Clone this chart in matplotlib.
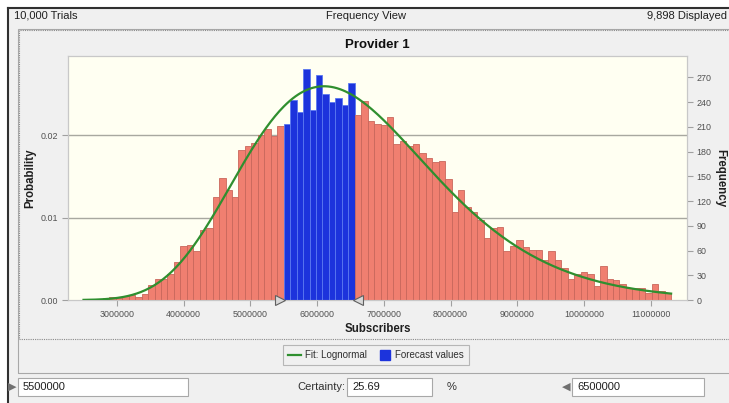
import numpy as np
import matplotlib
matplotlib.use("Agg")
import matplotlib.pyplot as plt
from matplotlib.patches import Rectangle
from matplotlib.lines import Line2D
from matplotlib.transforms import offset_copy

plt.rcParams['font.family'] = ['Liberation Sans', 'DejaVu Sans']

# --- data ---
trials = 10000
displayed = 9898
title = "Provider 1"
bin_width = 96700
first_edge = 2502300
lower_value = 5500000
upper_value = 6500000
certainty = 25.69

counts = [
    1, 1, 1, 2, 4, 3, 5, 6, 4, 7,
    18, 26, 26, 32, 46, 66, 67, 60, 85, 87,
    125, 148, 133, 125, 182, 187, 190, 200, 207, 199, 211,
    213, 243, 228, 280, 230, 273, 250, 240, 245, 237, 263,
    224, 241, 217, 214, 212, 222, 189, 193, 187, 189, 178, 172, 167, 169,
    147, 107, 134, 113, 107, 97, 75, 87, 89, 60,
    65, 73, 64, 61, 61, 49, 60, 48, 39, 25,
    32, 34, 31, 17, 41, 26, 24, 20, 14, 15,
    14, 8, 19, 11, 9,
]
xticks = [3000000, 4000000, 5000000, 6000000, 7000000, 8000000, 9000000, 10000000, 11000000]
freq_ticks = [0, 30, 60, 90, 120, 150, 180, 210, 240, 270]
prob_ticks = [0.00, 0.01, 0.02]

counts = np.array(counts)
edges = first_edge + np.arange(len(counts) + 1) * bin_width
lefts = edges[:-1]
centers = lefts + bin_width / 2
forecast = (lefts >= lower_value) & (lefts < upper_value)

# lognormal fit from the binned counts
logc = np.log(centers)
mu = np.sum(counts * logc) / counts.sum()
sig = np.sqrt(np.sum(counts * (logc - mu) ** 2) / counts.sum())
xs = np.linspace(edges[0], edges[-1], 400)
fit = np.exp(-(np.log(xs) - mu) ** 2 / (2 * sig ** 2)) / (xs * sig * np.sqrt(2 * np.pi))
fit = fit * counts.sum() * bin_width

W, H = 729, 403
def fx(x):
    return x / W
def fy(y):
    return 1 - y / H

fig = plt.figure(figsize=(7.29, 4.03), dpi=100, facecolor='white')

# window chrome (kept behind the axes)
fig.add_artist(Rectangle((fx(8), 0), 1 - fx(8), fy(8), transform=fig.transFigure,
                         facecolor='#f0f0f0', edgecolor='none', zorder=-10))
fig.add_artist(Line2D([fx(8), 1], [fy(8), fy(8)], transform=fig.transFigure, color='#303030', lw=1.5, zorder=-5))
fig.add_artist(Line2D([fx(8), fx(8)], [fy(8), 0], transform=fig.transFigure, color='#303030', lw=1.5, zorder=-5))
fig.add_artist(Rectangle((fx(18), fy(373)), 1, fy(29) - fy(373), transform=fig.transFigure,
                         facecolor='none', edgecolor='#a8a8a8', lw=0.8, zorder=-5))
fig.add_artist(Rectangle((fx(19), fy(339)), 1, fy(30) - fy(339), transform=fig.transFigure,
                         facecolor='none', edgecolor='#8a8a8a', lw=0.8, ls=(0, (1, 1)), zorder=-5))

fig.text(fx(14), fy(16), f"{trials:,} Trials", fontsize=8, color='#202020', va='center')
fig.text(fx(366), fy(16), "Frequency View", fontsize=8, color='#202020', va='center', ha='center')
fig.text(fx(727), fy(16), f"{displayed:,} Displayed", fontsize=8, color='#202020', va='center', ha='right')

ax = fig.add_axes([fx(68), fy(300), fx(687) - fx(68), fy(56) - fy(300)])
ax.set_facecolor('#fffff2')
ax2 = ax.twinx()

top = 296
ax2.set_ylim(0, top)
ax.set_ylim(0, top / trials)
ax.set_xlim(2270000, 11540000)

ax.set_yticks(prob_ticks)
ax.set_yticklabels([f"{t:.2f}" for t in prob_ticks])
for t in prob_ticks[1:]:
    ax.axhline(t, color='#a8a8a0', lw=1, zorder=0)

colors = np.where(forecast, '#1c33dc', '#f07f70')
ecolors = np.where(forecast, '#5a78f0', '#c9675c')
ax2.bar(lefts, counts, width=bin_width, align='edge', color=colors,
        edgecolor=ecolors, linewidth=0.6, zorder=2)
ax2.plot(xs, fit, color='#2f8f2f', lw=1.6, zorder=3)

# range markers at the forecast bars
blue_lo = lefts[forecast].min()
blue_hi = lefts[forecast].max() + bin_width
ax2.plot([blue_lo], [0], marker='>', ms=7.5, mfc='#d8d8d8', mec='#606060', mew=0.8,
         clip_on=False, zorder=5, transform=offset_copy(ax2.transData, fig, x=-2.5, units='points'))
ax2.plot([blue_hi], [0], marker='<', ms=7.5, mfc='#d8d8d8', mec='#606060', mew=0.8,
         clip_on=False, zorder=5, transform=offset_copy(ax2.transData, fig, x=2.5, units='points'))

ax.set_xticks(xticks)
ax.set_xticklabels([str(t) for t in xticks])
ax2.set_yticks(freq_ticks)

for a in (ax, ax2):
    a.tick_params(colors='#a0a0a0', labelcolor='#505050', labelsize=6.4, length=4, width=0.8, pad=3)
    for s in a.spines.values():
        s.set_color('#c8c8c8')
        s.set_linewidth(0.8)

ax.set_title(title, fontsize=9.5, fontweight='bold', color='#101010', pad=5.5)
ax.set_xlabel("Subscribers", fontsize=8.3, fontweight='bold', color='#202020', labelpad=3)
fig.text(fx(30), fy(178), "Probability", rotation=90, fontsize=8.3, fontweight='bold',
         color='#202020', ha='center', va='center')
fig.text(fx(720), fy(178), "Frequency", rotation=-90, fontsize=8.3, fontweight='bold',
         color='#202020', ha='center', va='center')

handles = [Line2D([], [], color='#2f8f2f', lw=1.6),
           Line2D([], [], color='#1c33dc', marker='s', ms=7, ls='none')]
leg = fig.legend(handles, ["Fit: Lognormal", "Forecast values"], loc='center',
                 bbox_to_anchor=(fx(376), fy(355)), ncol=2, fontsize=7, frameon=True,
                 fancybox=False, edgecolor='#a8a8a8', facecolor='#f0f0f0',
                 handlelength=1.3, handletextpad=0.4, columnspacing=1.2, borderpad=0.5)
leg.get_frame().set_linewidth(0.8)
for t in leg.get_texts():
    t.set_color('#303030')

# bottom input row
def box(x0, x1, text):
    fig.add_artist(Rectangle((fx(x0), fy(396)), fx(x1) - fx(x0), fy(378) - fy(396),
                             transform=fig.transFigure, facecolor='white',
                             edgecolor='#a8a8a8', lw=0.8, zorder=-4))
    fig.text(fx(x0 + 5), fy(387), text, fontsize=8, color='#202020', va='center')

box(18, 188, f"{lower_value}")
box(347, 432, f"{certainty:.2f}")
box(572, 704, f"{upper_value}")
fig.text(fx(345), fy(387), "Certainty:", fontsize=8, color='#303030', va='center', ha='right')
fig.text(fx(447), fy(387), "%", fontsize=8, color='#303030', va='center')
fig.text(fx(12), fy(387), "\u25B6", fontsize=8, color='#707070', va='center', ha='center')
fig.text(fx(566), fy(387), "\u25C0", fontsize=8, color='#707070', va='center', ha='center')

fig.savefig("out.png", dpi=100, facecolor=fig.get_facecolor())
